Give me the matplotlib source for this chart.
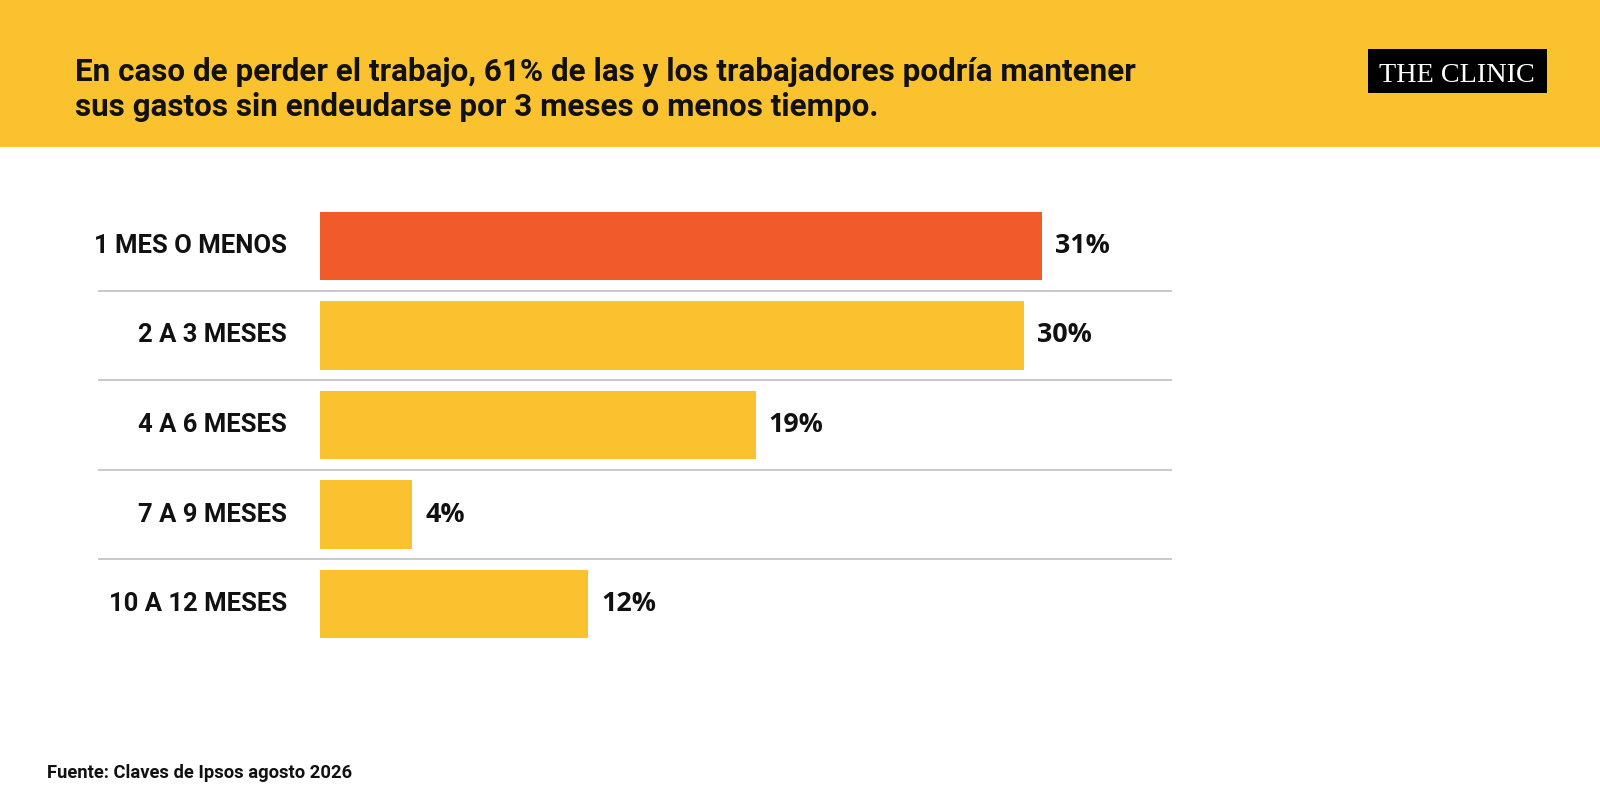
import matplotlib
matplotlib.use("Agg")
import matplotlib.pyplot as plt
from matplotlib.patches import Rectangle

# ---- data ----
categories = ["1 MES O MENOS", "2 A 3 MESES", "4 A 6 MESES", "7 A 9 MESES", "10 A 12 MESES"]
values = [31.0, 30.2, 18.7, 3.95, 11.5]
value_labels = ["31%", "30%", "19%", "4%", "12%"]
title_lines = ["En caso de perder el trabajo, 61% de las y los trabajadores podría mantener",
               "sus gastos sin endeudarse por 3 meses o menos tiempo."]
source = "Fuente: Claves de Ipsos agosto 2026"
brand = "THE CLINIC"

YELLOW = "#F9C22E"
ORANGE = "#F15A29"
INK = "#111111"
GRID = "#c9c9c9"

W, H = 1600, 805
fig = plt.figure(figsize=(W / 100, H / 100), dpi=100)
fig.patch.set_facecolor("white")
renderer = fig.canvas.get_renderer()

def fx(px):
    return px / W

def fy(py):
    return 1 - py / H

def fit(t, target):
    w = t.get_window_extent(renderer).width
    t.set_fontsize(t.get_fontsize() * target / w)

# header band
fig.patches.append(Rectangle((0, fy(147)), 1, 147 / H, transform=fig.transFigure,
                             facecolor=YELLOW, edgecolor="none", zorder=0))

# title
TF = ["Roboto", "DejaVu Sans"]
t1 = fig.text(fx(75), fy(81), title_lines[0], fontsize=20, fontweight="bold",
              family=TF, color=INK, ha="left", va="baseline")
fit(t1, 1058)
t2 = fig.text(fx(75), fy(116), title_lines[1], fontsize=t1.get_fontsize(), fontweight="bold",
              family=TF, color=INK, ha="left", va="baseline")

# logo
fig.patches.append(Rectangle((fx(1368), fy(93)), fx(1547 - 1368), (93 - 49) / H,
                             transform=fig.transFigure, facecolor="black", edgecolor="none", zorder=1))
tb = fig.text(fx(1457), fy(82), brand, fontsize=20, family=["Liberation Serif", "DejaVu Serif"],
              color="white", ha="center", va="baseline", zorder=2)
fit(tb, 156)

# bars
left_px, right_px = 320, 1171
row_top, row_bot = 201.25, 648.75
px_per_unit = 23.3
ax = fig.add_axes([fx(left_px), fy(row_bot), fx(right_px - left_px), (row_bot - row_top) / H])
ax.set_xlim(0, (right_px - left_px) / px_per_unit)
ax.set_ylim(len(categories) - 0.5, -0.5)
ax.axis("off")

colors = [ORANGE] + [YELLOW] * (len(categories) - 1)
ypos = list(range(len(categories)))
ax.barh(ypos, values, height=0.76, color=colors, edgecolor="none", zorder=2)

for i in range(len(categories) - 1):
    ax.axhline(i + 0.5, xmin=(99 - left_px) / (right_px - left_px), xmax=1,
               color=GRID, lw=1.4, clip_on=False, zorder=1)

LF = ["Roboto", "DejaVu Sans"]
label_x = (287 - left_px) / (right_px - left_px)
lab = []
for y, c in zip(ypos, categories):
    lab.append(ax.text(label_x, y, c, transform=ax.get_yaxis_transform(), ha="right", va="center",
                       fontsize=18, fontweight="bold", family=LF, color=INK))
fit(lab[0], 193)
for l in lab[1:]:
    l.set_fontsize(lab[0].get_fontsize())

VF = ["Open Sans", "DejaVu Sans"]
vals = []
gap = 13 / px_per_unit
for y, v, s in zip(ypos, values, value_labels):
    vals.append(ax.text(v + gap, y, s, ha="left", va="center", fontsize=18, fontweight="bold",
                        family=VF, color=INK))
fit(vals[0], 55)
for t in vals[1:]:
    t.set_fontsize(vals[0].get_fontsize())

# source
ts = fig.text(fx(47), fy(778), source, fontsize=12, fontweight="bold", family=TF,
              color=INK, ha="left", va="baseline")
fit(ts, 305)

fig.savefig("out.png", dpi=100, facecolor="white")
